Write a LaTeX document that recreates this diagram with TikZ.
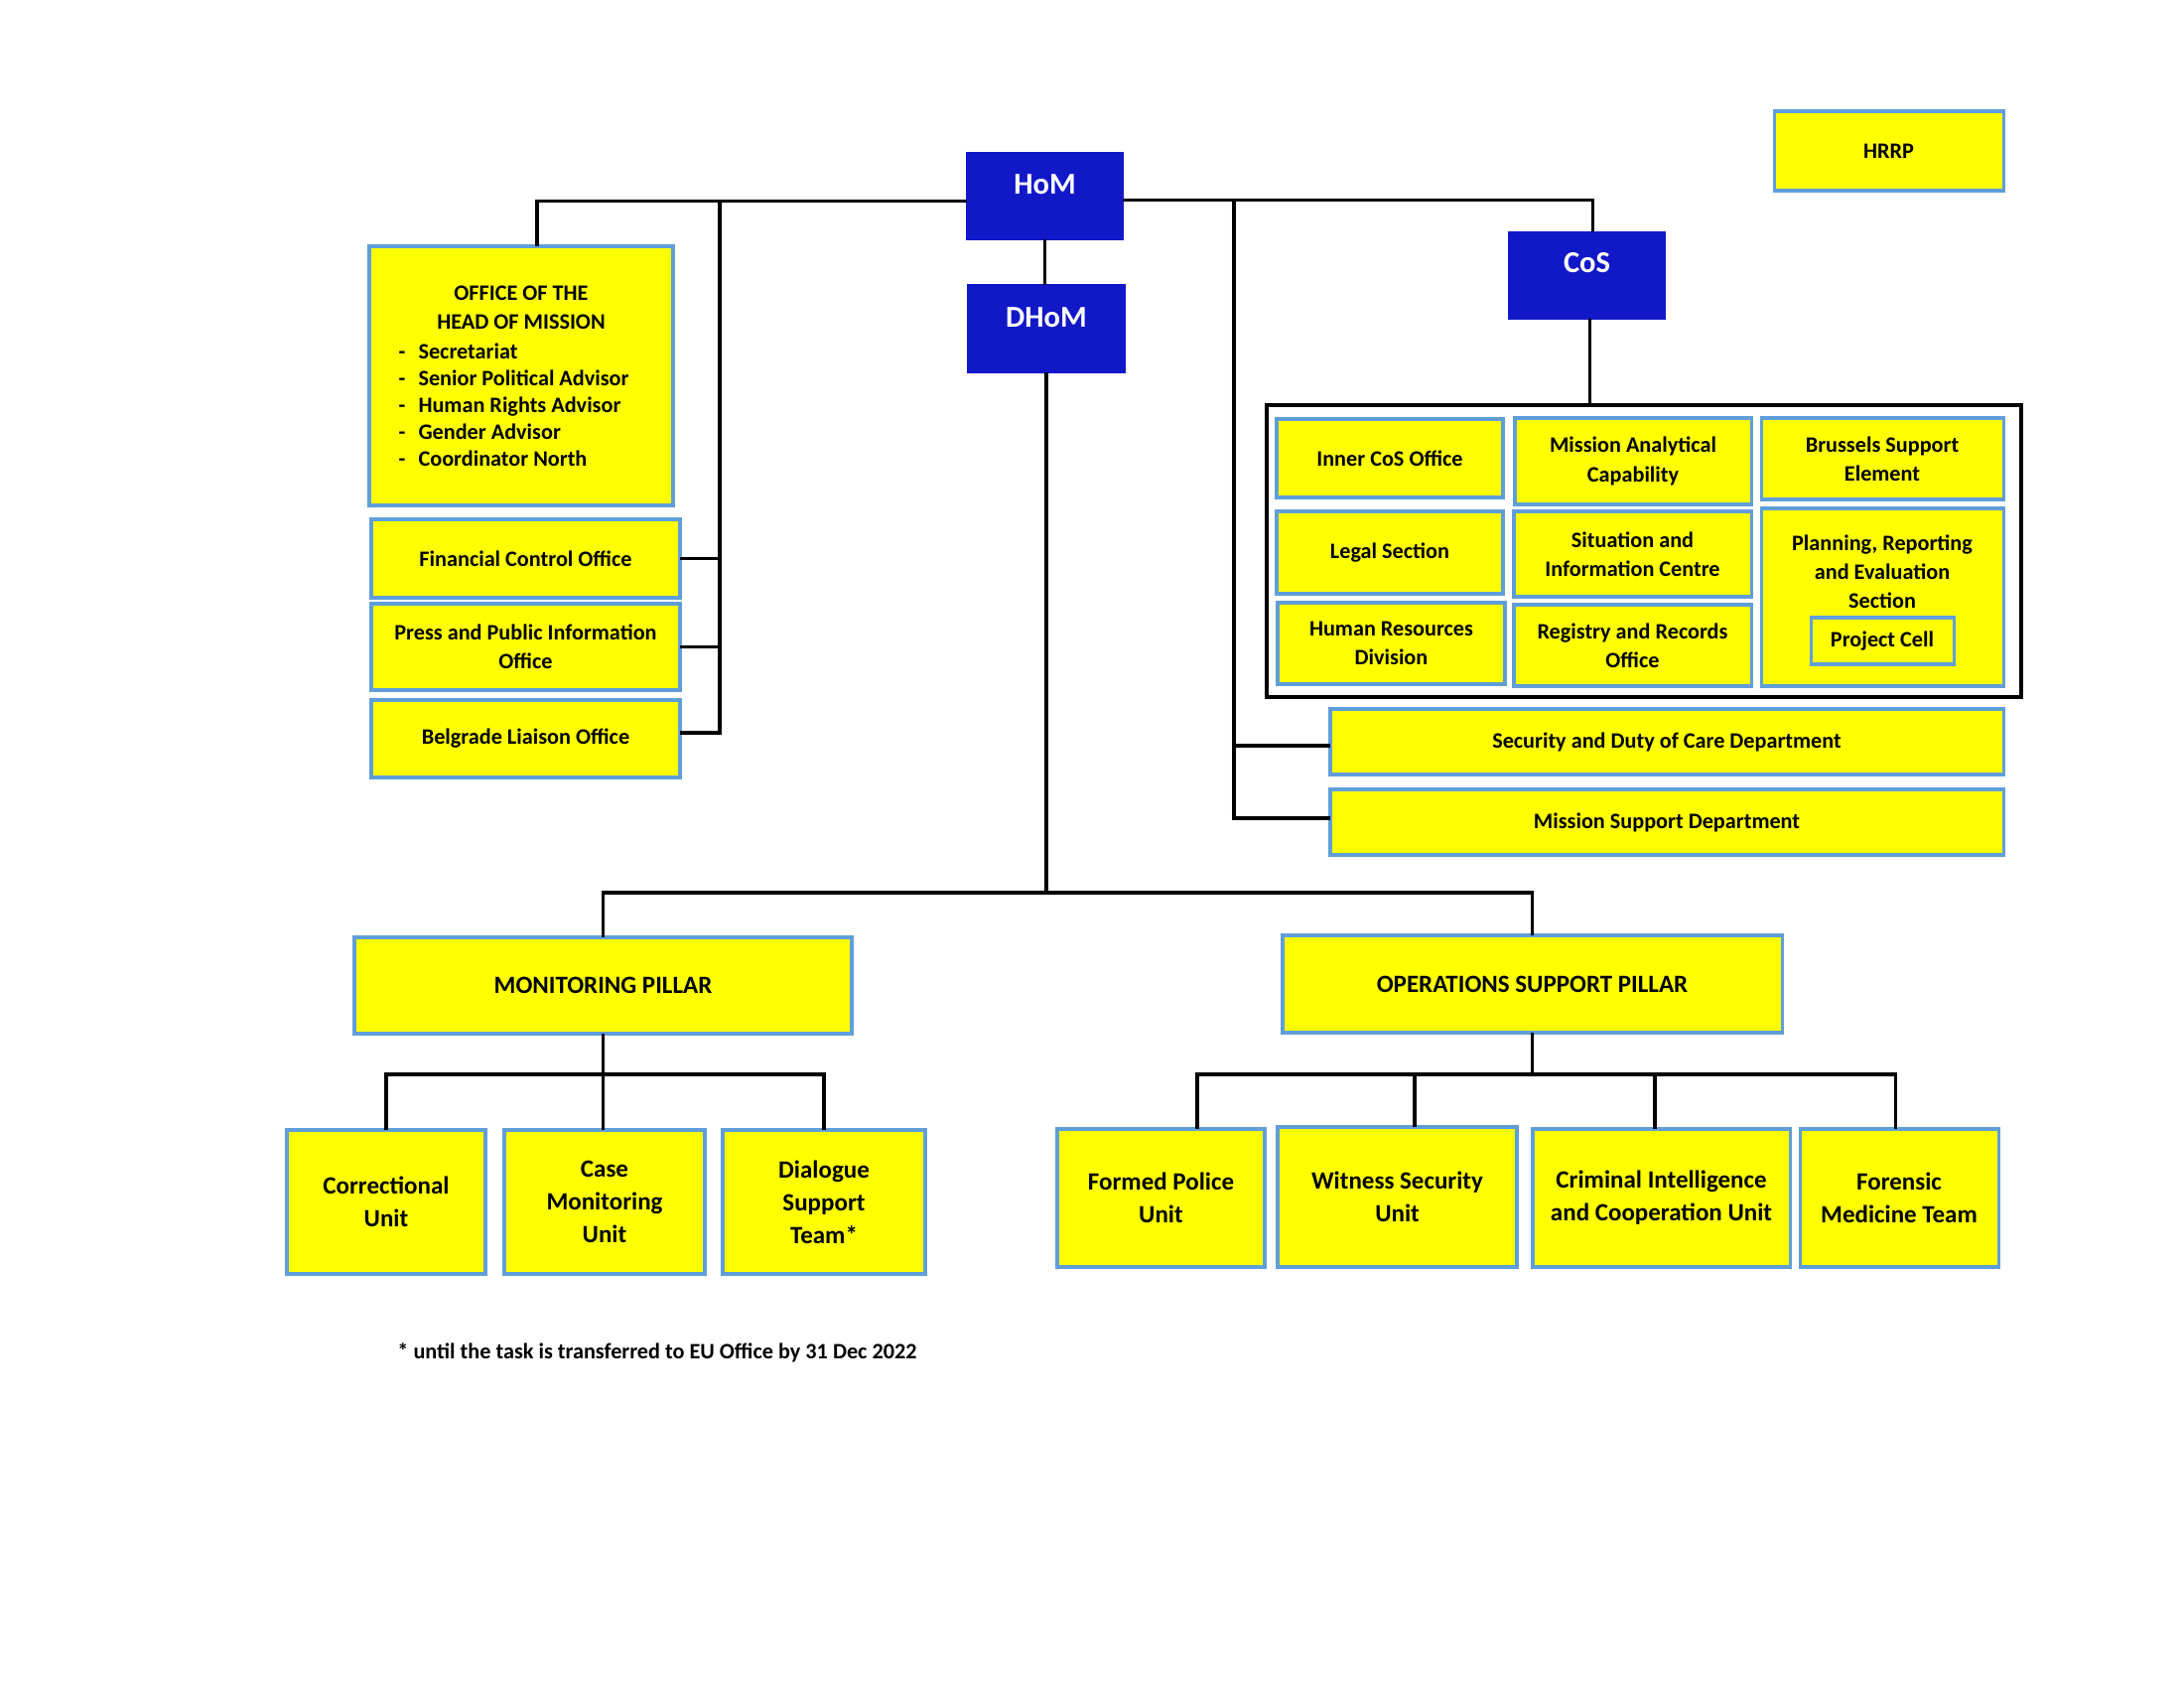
\documentclass[tikz,border=0pt]{standalone}
\usepackage{fontspec}
\setmainfont{Carlito}
\usetikzlibrary{calc}
\definecolor{yel}{RGB}{255,255,0}
\definecolor{bord}{RGB}{96,158,218}
\definecolor{hblue}{RGB}{17,24,200}
\newcommand\mkbox[7]{\node[#1, minimum width={(#5-#3)*0.36pt}, minimum height={(#6-#4)*0.36pt}] (#2) at ({(#3+#5)/2},{(#4+#6)/2}) {#7};}
\tikzset{
  ybox/.style={draw=bord, fill=yel, line width=1.1pt, inner sep=0pt, outer sep=0pt, align=center, font=\bfseries\fontsize{8}{10.5}\selectfont},
  ybig/.style={ybox, font=\bfseries\fontsize{9}{11.9}\selectfont},
  hbox/.style={draw=hblue, fill=hblue, line width=0.5pt, inner sep=0pt, outer sep=0pt},
  htext/.style={text=white, font=\bfseries\fontsize{11}{13}\selectfont, inner sep=0pt},
  ytext/.style={align=center, inner sep=0pt, font=\bfseries\fontsize{8}{10.4}\selectfont},
  contbox/.style={draw=black, line width=1.5pt, inner sep=0pt, outer sep=0pt},
  conn/.style={draw=black, line width=1.1pt, line join=miter}
}
\begin{document}
\begin{tikzpicture}[x=0.36pt, y=-0.36pt]
\fill[white] (0,0) rectangle (2200,1700);
\useasboundingbox (0,0) rectangle (2200,1700);

% top level
\mkbox{ybox}{hrrp}{1787}{112}{2018}{192}{HRRP}
\mkbox{hbox}{hom}{974}{154}{1131}{241}{}
\mkbox{hbox}{dhom}{975}{287}{1133}{375}{}
\mkbox{hbox}{cos}{1520}{234}{1677}{321}{}
\node[htext, anchor=base] (homt) at ($(hom.north)+(0,42)$) {HoM};
\node[htext, anchor=base] (dhomt) at ($(dhom.north)+(0,43)$) {DHoM};
\node[htext, anchor=base] (cost) at ($(cos.north)+(0,41)$) {CoS};

% office of the head of mission
\mkbox{ybox}{office}{372}{248}{678}{509}{}
\node[ytext, anchor=base] (offt1) at (525,303) {OFFICE OF THE};
\node[ytext, anchor=base] (offt2) at (525,332) {HEAD OF MISSION};
\foreach \t [count=\i] in {Secretariat, Senior Political Advisor, Human Rights Advisor, Gender Advisor, Coordinator North}
  \node[ytext, anchor=base west] (li\i) at (401,{362+27*(\i-1)}) {\makebox[7.2pt][l]{-}\t};
\mkbox{ybox}{fco}{374}{523}{685}{602}{Financial Control Office}
\mkbox{ybox}{ppio}{374}{608}{685}{695}{Press and Public Information\\Office}
\mkbox{ybox}{blo}{374}{705}{685}{783}{Belgrade Liaison Office}

% CoS group
\mkbox{contbox}{cont}{1276}{408}{2036}{702}{}
\mkbox{ybox}{icos}{1286}{422}{1514}{501}{Inner CoS Office}
\mkbox{ybox}{mac}{1526}{421}{1764}{508}{Mission Analytical\\Capability}
\mkbox{ybox}{bse}{1774}{421}{2018}{503}{Brussels Support\\Element}
\mkbox{ybox}{legal}{1286}{515}{1514}{598}{Legal Section}
\mkbox{ybox}{sic}{1525}{515}{1764}{601}{Situation and\\Information Centre}
\mkbox{ybox}{plan}{1774}{512}{2018}{691}{}
\node[ytext] (plant) at (1896,576) {Planning, Reporting\\and Evaluation\\Section};
\mkbox{ybox}{pc}{1824}{622}{1968}{669}{Project Cell}
\mkbox{ybox}{hrd}{1287}{607}{1516}{689}{Human Resources\\Division}
\mkbox{ybox}{rro}{1525}{609}{1764}{691}{Registry and Records\\Office}

\mkbox{ybox}{sdc}{1340}{714}{2018}{780}{Security and Duty of Care Department}
\mkbox{ybox}{msd}{1340}{795}{2018}{861}{Mission Support Department}

% pillars
\mkbox{ybig}{mon}{357}{944}{858}{1041}{MONITORING PILLAR}
\mkbox{ybig}{ops}{1292}{942}{1795}{1040}{OPERATIONS SUPPORT PILLAR}
\mkbox{ybig}{corr}{289}{1138}{489}{1283}{Correctional\\Unit}
\mkbox{ybig}{cmu}{508}{1138}{710}{1283}{Case\\Monitoring\\Unit}
\mkbox{ybig}{dst}{728}{1138}{932}{1283}{Dialogue\\Support\\Team*}
\mkbox{ybig}{fpu}{1065}{1137}{1274}{1276}{Formed Police\\Unit}
\mkbox{ybig}{wsu}{1287}{1135}{1528}{1276}{Witness Security\\Unit}
\mkbox{ybig}{cicu}{1544}{1137}{1803}{1276}{Criminal Intelligence\\and Cooperation Unit}
\mkbox{ybig}{fmt}{1813}{1137}{2013}{1276}{Forensic\\Medicine Team}

\node[anchor=base, inner sep=0pt, font=\bfseries\fontsize{8}{9.6}\selectfont] (fn) at (662,1368) {* until the task is transferred to EU Office by 31 Dec 2022};

% connectors
\coordinate (lbar) at (725,204);
\draw[conn] ($(hom.west)+(0,5)$) -| ($(office.north)+(16,0)$);
\draw[conn] (lbar) |- ($(blo.east)+(0,-6)$);
\draw[conn] (fco.east) -- (fco.east -| lbar);
\draw[conn] (ppio.east) -- (ppio.east -| lbar);

\coordinate (rbar) at (1243,201);
\draw[conn] ($(hom.east)+(0,4)$) -| ($(cos.north)+(6,0)$);
\draw[conn] (rbar) |- ($(msd.west)+(0,-4)$);
\draw[conn] ($(sdc.west)+(0,4)$) -- ($(sdc.west -| rbar)+(0,4)$);

\draw[conn] (hom.south) -- (hom.south |- dhom.north);
\draw[conn] ($(cos.south)+(3,0)$) -- ($(cos.south |- cont.north)+(3,0)$);

\coordinate (dbus) at (1053,899);
\draw[conn] (dhom.south) -- (dhom.south |- dbus);
\draw[conn] (mon.north) |- (dbus) -| (ops.north);

\coordinate (mbus) at (608,1082);
\draw[conn] (mon.south) -- (mon.south |- cmu.north);
\draw[conn] (corr.north) |- (mbus) -| (dst.north);

\coordinate (obus) at (1544,1082);
\coordinate (o1) at (1206,1082);
\coordinate (o2) at (1425,1082);
\coordinate (o3) at (1667,1082);
\coordinate (o4) at (1909,1082);
\draw[conn] (ops.south) -- (ops.south |- obus);
\draw[conn] (o1 |- fpu.north) -- (o1) -- (o4) -- (o4 |- fmt.north);
\draw[conn] (o2) -- (o2 |- wsu.north);
\draw[conn] (o3) -- (o3 |- cicu.north);
\end{tikzpicture}
\end{document}
